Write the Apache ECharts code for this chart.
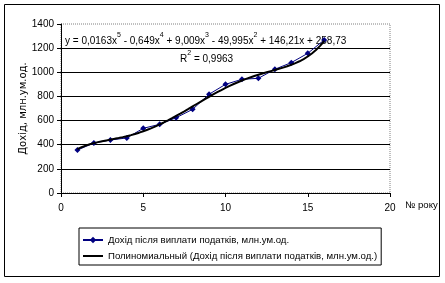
<!DOCTYPE html>
<html><head><meta charset="utf-8">
<script src="https://cdn.jsdelivr.net/npm/echarts@6/dist/echarts.min.js"></script>
<style>html,body{margin:0;padding:0;background:#fff}#c{width:445px;height:283px}</style>
</head><body><div id="c"></div>
<script>
const years = [1,2,3,4,5,6,7,8,9,10,11,12,13,14,15,16];
const income = [356,414,439,456,536,569,624,693,818,900,942,950,1025,1080,1157,1268];
const trendCoef = [0.0163,-0.649,9.009,-49.995,146.21,258.73]; // x^5 ... x^0 (from chart equation)
const xTicks = [0,5,10,15,20];
const yTicks = [0,200,400,600,800,1000,1200,1400];
const seriesName = 'Дохід після виплати податків, млн.ум.од.';
const trendName = 'Полиномиальный (Дохід після виплати податків, млн.ум.од.)';

function poly(x){let v=0;for(const c of trendCoef){v=v*x+c;}return v;}
const trend=[];
for(let i=0;i<=60;i++){const x=years[0]+i*(years[years.length-1]-years[0])/60;trend.push([x,poly(x)]);}

const F='"Liberation Sans", Arial, sans-serif';
const rich={n:{fontSize:10,fontFamily:F,color:'#000',lineHeight:14,verticalAlign:'bottom'},
            s:{fontSize:7,fontFamily:F,color:'#000',lineHeight:7,verticalAlign:'top'}};
const chart=echarts.init(document.getElementById('c'),null,{renderer:'canvas'});
chart.setOption({
  animation:false,
  textStyle:{fontFamily:F,color:'#000'},
  grid:{left:61,top:24,right:55,bottom:90,show:true,borderColor:'#808080',borderWidth:1,borderType:'dotted'},
  xAxis:{type:'value',min:xTicks[0],max:xTicks[xTicks.length-1],interval:5,
    axisLine:{lineStyle:{color:'#000',width:1}},axisTick:{show:true,length:4,lineStyle:{color:'#000'}},
    axisLabel:{fontSize:10,color:'#000',margin:10,fontFamily:F,formatter:v=>String(v)},splitLine:{show:false}},
  yAxis:{type:'value',min:yTicks[0],max:yTicks[yTicks.length-1],interval:200,
    name:'Дохід, млн.ум.од.',nameLocation:'middle',nameGap:33,nameMoveOverlap:false,
    nameTextStyle:{fontSize:10,color:'#000',fontFamily:'"DejaVu Sans", sans-serif'},
    axisLine:{show:true,lineStyle:{color:'#000',width:1}},axisTick:{show:true,length:4,lineStyle:{color:'#000'}},
    axisLabel:{fontSize:10,color:'#000',margin:7,fontFamily:F,formatter:v=>String(v)},
    splitLine:{show:true,lineStyle:{color:['#000','#000','#000','#000','#000','#000','#000','rgba(0,0,0,0)'],width:1}}},
  legend:{orient:'vertical',left:79,top:228,borderColor:'#000',borderWidth:1,padding:[7,4,4,3],itemGap:6,
    itemWidth:20,itemHeight:8,textStyle:{fontSize:9.6,fontFamily:F,color:'#000'},
    data:[seriesName,{name:trendName,icon:'path://M0,0H20V2H0Z'}]},
  series:[
    {name:seriesName,type:'line',data:years.map((x,i)=>[x,income[i]]),symbol:'diamond',symbolSize:6,
      lineStyle:{color:'#000080',width:1},itemStyle:{color:'#000080'},z:3},
    {name:trendName,type:'line',data:trend,symbol:'none',smooth:false,
      lineStyle:{color:'#000',width:2},itemStyle:{color:'#000'},z:4}
  ],
  graphic:[
    {type:'rect',shape:{x:4.5,y:4.5,width:435,height:272},style:{fill:null,stroke:'#000',lineWidth:1},silent:true},
    {type:'text',left:405,top:200,style:{text:'№ року',font:'9.6px '+F,fill:'#000'}},
    {type:'text',left:65,top:32,style:{
      text:'{n|y = 0,0163x}{s|5}{n| - 0,649x}{s|4}{n| + 9,009x}{s|3}{n| - 49,995x}{s|2}{n| + 146,21x + 258,73}',rich:rich}},
    {type:'text',left:180,top:50,style:{text:'{n|R}{s|2}{n| = 0,9963}',rich:rich}}
  ]
});
</script></body></html>
